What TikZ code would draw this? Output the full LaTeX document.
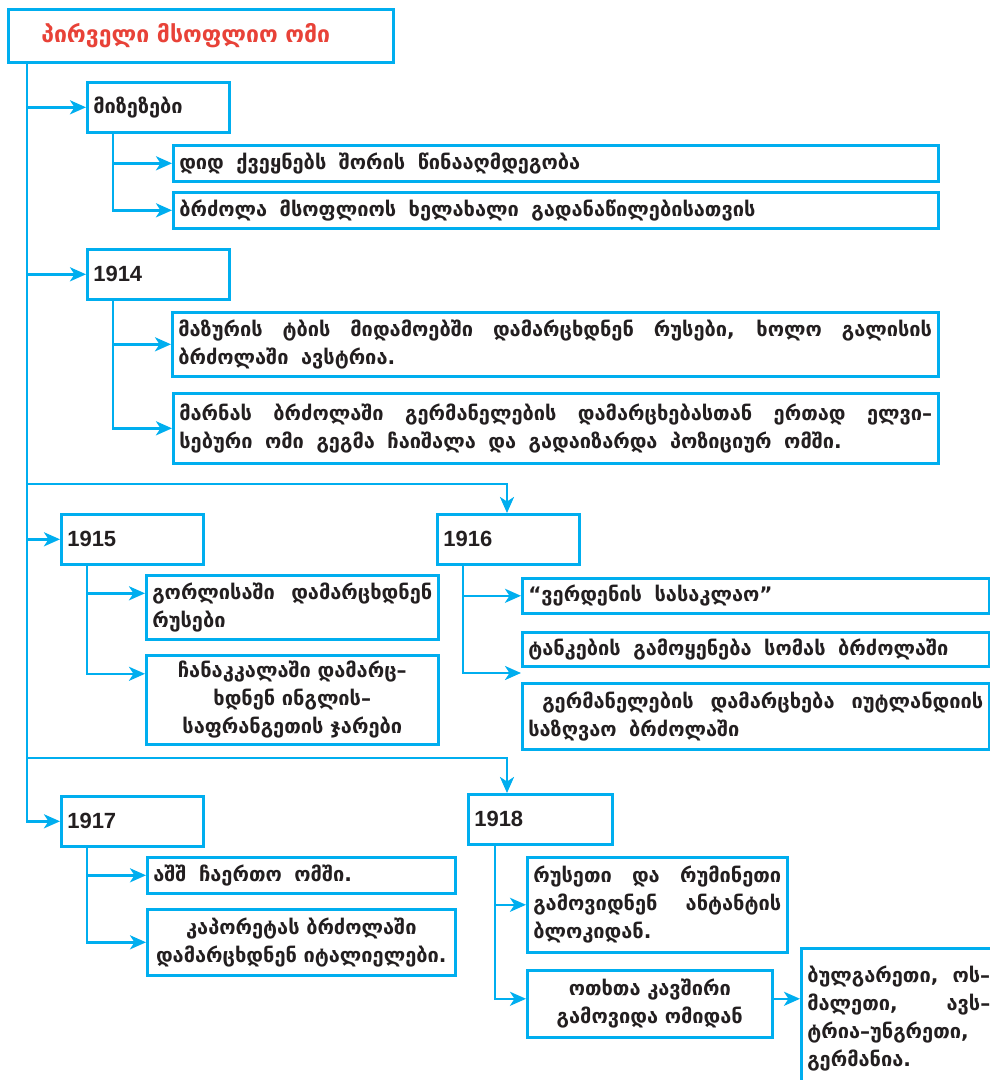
\documentclass[tikz,border=0pt]{standalone}
\usepackage{fontspec}
\newfontfamily\geo[WordSpace=1.8]{DejaVu Sans}
\newfontfamily\yr{Liberation Sans}
\usetikzlibrary{arrows.meta}

\definecolor{skyline}{RGB}{0,174,239}
\definecolor{titlered}{RGB}{232,66,56}
\definecolor{ink}{RGB}{35,31,32}

\tikzset{
  box/.style={draw=skyline, line width=2.6pt, anchor=north west, inner xsep=6pt, inner ysep=0pt,
    text=ink, font=\geo\bfseries\fontsize{20}{28}\selectfont, align=justify},
  yearbox/.style={box, font=\yr\bfseries\fontsize{22}{24}\selectfont, align=left,
    text width=130pt, minimum height=50pt},
  arr/.style={draw=skyline, line width=2.6pt, -{Stealth[length=16pt,width=14pt,inset=4.5pt]}},
}

\begin{document}
\begin{tikzpicture}[x=1pt, y=-1pt]
	\useasboundingbox (0,0) rectangle (989,1080);
	% boxes
	\node[box, text=titlered, font=\geo\bfseries\fontsize{23}{26}\selectfont, align=left, inner xsep=33pt,
	  text width=319pt, minimum height=53pt] (title) at (7,8) {პირველი მსოფლიო ომი};
	\node[box, text width=130pt, minimum height=50pt] (why) at (86,81) {მიზეზები};
	\node[box, text width=753pt, minimum height=36pt] (why1) at (172,144) {დიდ ქვეყნებს შორის წინააღმდეგობა};
	\node[box, text width=753pt, minimum height=36pt] (why2) at (172,191) {ბრძოლა მსოფლიოს ხელახალი გადანაწილებისათვის};
	\node[yearbox] (y1914) at (86,248) {1914};
	\node[box, text width=754pt, minimum height=64pt] (e14a) at (171,311)
	  {მაზურის ტბის მიდამოებში დამარცხდნენ რუსები, ხოლო გალისის\linebreak ბრძოლაში ავსტრია.};
	\node[box, text width=753pt, minimum height=70pt] (e14b) at (172,392)
	  {მარნას ბრძოლაში გერმანელების დამარცხებასთან ერთად ელვი–\linebreak სებური ომი გეგმა ჩაიშალა და გადაიზარდა პოზიციურ ომში.};
	\node[yearbox] (y1915) at (60,513) {1915};
	\node[box, text width=280pt, minimum height=64pt] (e15a) at (145,574) {გორლისაში დამარცხდნენ\linebreak რუსები};
	\node[box, text width=280pt, minimum height=89pt, align=center] (e15b) at (145,654)
	  {ჩანაკკალაში დამარც–\\ხდნენ ინგლის–\\საფრანგეთის ჯარები};
	\node[yearbox] (y1916) at (436,513) {1916};
	\node[box, text width=455pt, minimum height=35pt] (e16a) at (521,577) {“ვერდენის სასაკლაო”};
	\node[box, text width=455pt, minimum height=34pt] (e16b) at (521,631) {ტანკების გამოყენება სომას ბრძოლაში};
	\node[box, text width=455pt, minimum height=66pt] (e16c) at (521,682)
	  {\hspace*{14pt}გერმანელების დამარცხება იუტლანდიის\linebreak საზღვაო ბრძოლაში};
	\node[yearbox] (y1917) at (60,795) {1917};
	\node[box, text width=296pt, minimum height=36pt] (e17a) at (146,856) {აშშ ჩაერთო ომში.};
	\node[box, text width=296pt, minimum height=66pt, align=center] (e17b) at (146,908)
	  {კაპორეტას ბრძოლაში\\დამარცხდნენ იტალიელები.};
	\node[yearbox, text width=132pt] (y1918) at (467,793) {1918};
	\node[box, text width=248pt, minimum height=95pt] (e18a) at (526,856)
	  {რუსეთი და რუმინეთი\linebreak გამოვიდნენ ანტანტის\linebreak ბლოკიდან.};
	\node[box, text width=233pt, minimum height=67pt, align=center] (e18b) at (526,969)
	  {ოთხთა კავშირი\\გამოვიდა ომიდან};
	\node[box, text width=183pt, minimum height=140pt] (e18c) at (800,947)
	  {ბულგარეთი, ოს–\linebreak მალეთი, ავს–\linebreak ტრია–უნგრეთი,\linebreak გერმანია.};
	% trunk and forks
	\coordinate (trunk) at ([xshift=20pt]title.south west);
	\coordinate (fork16) at (27,484);
	\coordinate (fork18) at (27,758);
	\draw[arr] (trunk) |- (why.west);
	\draw[arr] (trunk) |- (y1914.west);
	\draw[arr] (trunk) |- (y1915.west);
	\draw[arr] (trunk) |- (y1917.west);
	\draw[arr] (fork16) -| ([xshift=71pt]y1916.north west);
	\draw[arr] (fork18) -| ([xshift=40pt]y1918.north west);
	% branches
	\draw[arr] ([xshift=27pt]why.south west) |- (why1.west);
	\draw[arr] ([xshift=27pt]why.south west) |- (why2.west);
	\draw[arr] ([xshift=27pt]y1914.south west) |- (e14a.west);
	\draw[arr] ([xshift=27pt]y1914.south west) |- (e14b.west);
	\draw[arr] ([xshift=27pt]y1915.south west) |- ([yshift=14pt]e15a.west);
	\draw[arr] ([xshift=27pt]y1915.south west) |- ([yshift=26pt]e15b.west);
	\draw[arr] ([xshift=27pt]y1916.south west) |- (e16a.west);
	\draw[arr] ([xshift=27pt]y1916.south west) |- ([yshift=9pt]e16c.north west);
	\draw[arr] ([xshift=27pt]y1917.south west) |- (e17a.west);
	\draw[arr] ([xshift=27pt]y1917.south west) |- (e17b.west);
	\draw[arr] ([xshift=28pt]y1918.south west) |- (e18a.west);
	\draw[arr] ([xshift=28pt]y1918.south west) |- ([yshift=5pt]e18b.west);
	\draw[arr] ([yshift=5pt]e18b.east) -- ([yshift=5pt]e18b.east -| e18c.west);
\end{tikzpicture}
\end{document}
